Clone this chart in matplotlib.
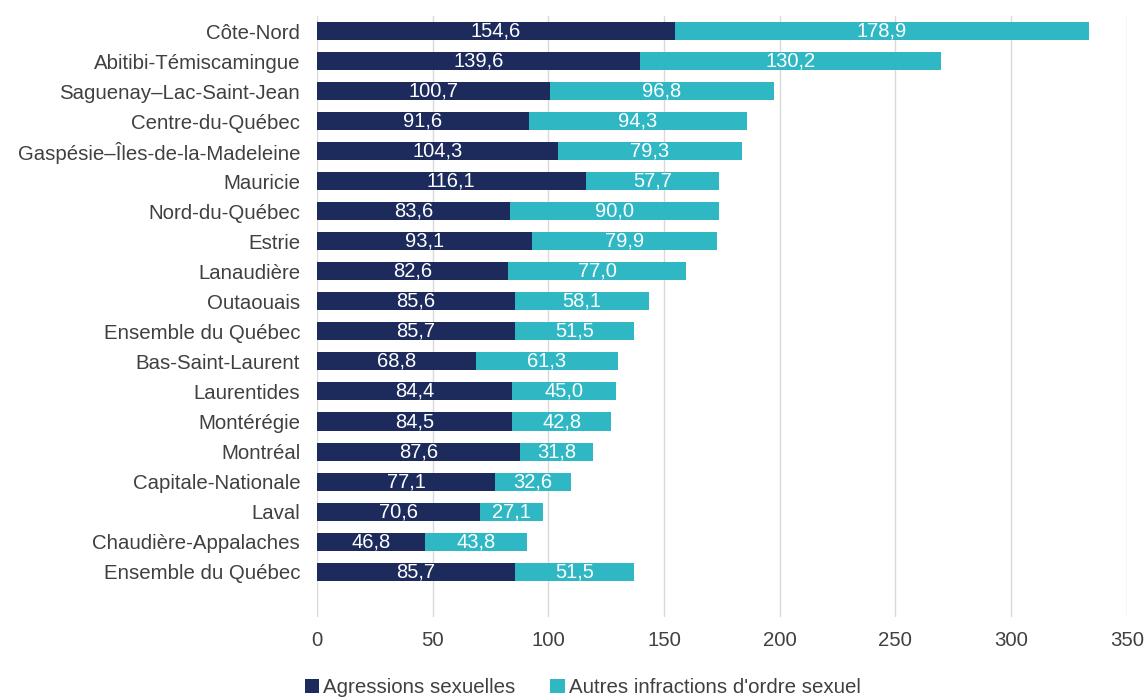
import numpy as np
import matplotlib.pyplot as plt

plt.rcParams['font.family'] = ['Liberation Sans', 'DejaVu Sans']

regions = [
    "Côte-Nord", "Abitibi-Témiscamingue", "Saguenay–Lac-Saint-Jean",
    "Centre-du-Québec", "Gaspésie–Îles-de-la-Madeleine", "Mauricie",
    "Nord-du-Québec", "Estrie", "Lanaudière", "Outaouais",
    "Ensemble du Québec", "Bas-Saint-Laurent", "Laurentides", "Montérégie",
    "Montréal", "Capitale-Nationale", "Laval", "Chaudière-Appalaches",
    "Ensemble du Québec",
]
agressions = [154.6, 139.6, 100.7, 91.6, 104.3, 116.1, 83.6, 93.1, 82.6, 85.6,
              85.7, 68.8, 84.4, 84.5, 87.6, 77.1, 70.6, 46.8, 85.7]
autres = [178.9, 130.2, 96.8, 94.3, 79.3, 57.7, 90.0, 79.9, 77.0, 58.1,
          51.5, 61.3, 45.0, 42.8, 31.8, 32.6, 27.1, 43.8, 51.5]

navy = '#1C2A5C'
teal = '#2FB8C3'
gray = '#404040'

fig = plt.figure(figsize=(11.44, 7), dpi=100)
ax = fig.add_axes([0.277, 0.119, 0.708, 0.858])

n = len(regions)
y = np.arange(n)[::-1]
b1 = ax.barh(y, agressions, height=0.6, color=navy, label='Agressions sexuelles', zorder=3)
b2 = ax.barh(y, autres, left=agressions, height=0.6, color=teal,
             label="Autres infractions d'ordre sexuel", zorder=3)

def fmt(v):
    return f"{v:.1f}".replace('.', ',')

for bars, vals in ((b1, agressions), (b2, autres)):
    for bar, v in zip(bars, vals):
        ax.text(bar.get_x() + bar.get_width() / 2, bar.get_y() + bar.get_height() / 2,
                fmt(v), ha='center', va='center', color='white', fontsize=14.5, zorder=4)

ax.set_ylim(-1.5, n - 0.5)
ax.set_xlim(0, 350)
ax.set_xticks(np.arange(0, 351, 50))
ax.set_yticks(y)
ax.set_yticklabels(regions)
ax.tick_params(axis='both', length=0, labelsize=14.7, colors=gray)
ax.tick_params(axis='y', pad=12)
ax.tick_params(axis='x', pad=10)
ax.grid(axis='x', color='#D9D9D9', linewidth=1, zorder=0)
for s in ax.spines.values():
    s.set_visible(False)
ax.axvline(0, color='#D0D0D0', linewidth=1.2, linestyle=(0, (4, 3)), zorder=1)

ax.legend(loc='upper center', bbox_to_anchor=(0.328, -0.072), ncol=2, frameon=False,
          fontsize=14.8, handlelength=0.7, handleheight=0.7, handletextpad=0.2,
          columnspacing=1.7, labelcolor=gray)

fig.savefig('out.png', dpi=100)
